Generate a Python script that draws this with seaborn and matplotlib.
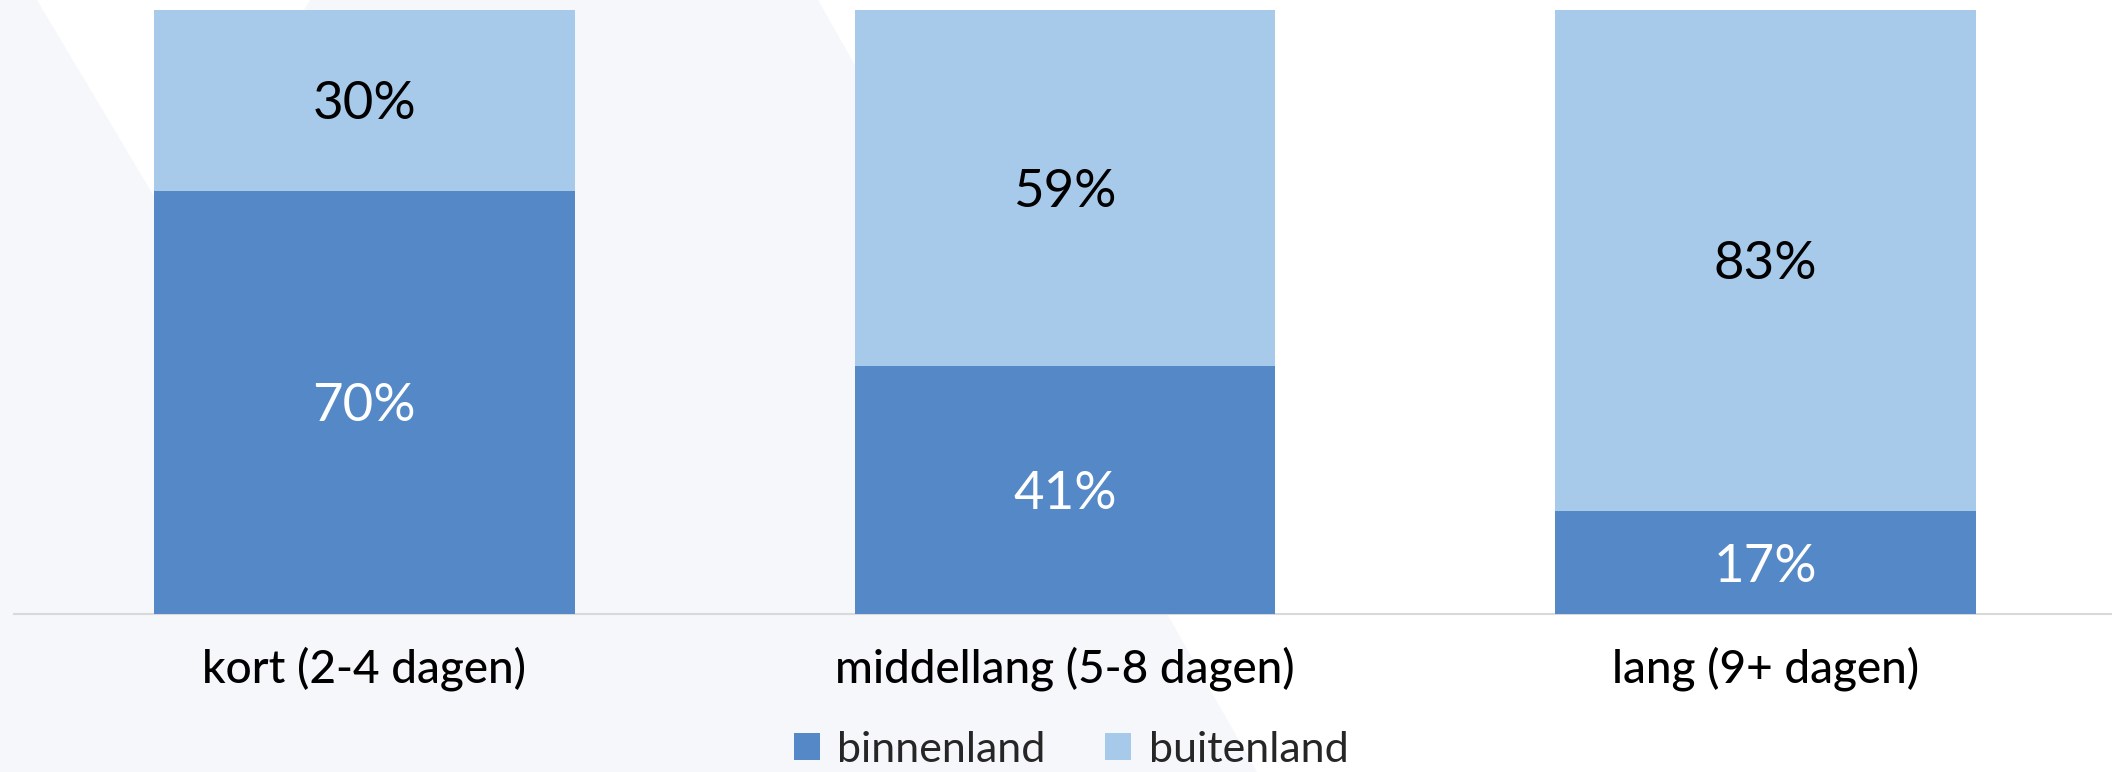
import matplotlib
matplotlib.use("Agg")
import matplotlib.pyplot as plt
from matplotlib.patches import Polygon, Patch
import seaborn as sns
import pandas as pd
import numpy as np

categories = ["kort (2-4 dagen)", "middellang (5-8 dagen)", "lang (9+ dagen)"]
binnenland = [70, 41, 17]
buitenland = [30, 59, 83]
series_names = ["binnenland", "buitenland"]

col_dark = "#5488C7"
col_light = "#A7C9EA"
bg_gray = "#F5F7FB"

sns.set_theme(style="white")
plt.rcParams["font.family"] = ["Lato", "DejaVu Sans"]

W, H = 2112, 772
fig = plt.figure(figsize=(W / 100, H / 100), dpi=100)
fig.patch.set_facecolor("white")

def fp(x, y):
    return (x / W, 1 - y / H)

# decorative background shapes (figure pixel coords)
gray_poly = Polygon([fp(0, 0), fp(818, 0), fp(1257, 772), fp(0, 772)],
                    closed=True, transform=fig.transFigure, facecolor=bg_gray,
                    edgecolor="none", zorder=-10)
white_tri = Polygon([fp(37, 0), fp(310, 0), fp(173, 228)],
                    closed=True, transform=fig.transFigure, facecolor="white",
                    edgecolor="none", zorder=-9)
fig.patches.extend([gray_poly, white_tri])

ax = fig.add_axes([14 / W, (H - 614) / H, 2102 / W, (614 - 9.5) / H])
ax.set_facecolor("none")
ax.set_zorder(1)

df = pd.DataFrame({
    "categorie": categories,
    "binnenland": binnenland,
    "buitenland": buitenland,
})
df["totaal"] = df["binnenland"] + df["buitenland"]

sns.barplot(data=df, x="categorie", y="totaal", color=col_light, saturation=1,
            width=0.6, ax=ax, linewidth=0, zorder=2)
sns.barplot(data=df, x="categorie", y="binnenland", color=col_dark, saturation=1,
            width=0.6, ax=ax, linewidth=0, zorder=3)

for i, (b, u) in enumerate(zip(binnenland, buitenland)):
    ax.text(i, b / 2, f"{b}%", ha="center", va="center_baseline", color="white",
            fontsize=38, fontweight="normal", zorder=5)
    ax.text(i, b + u / 2, f"{u}%", ha="center", va="center_baseline", color="black",
            fontsize=38, fontweight="normal", zorder=5)

ax.set_xlim(-0.5, 2.5)
ax.set_ylim(0, 100)
ax.set_xlabel("")
ax.set_ylabel("")
ax.set_yticks([])
for s in ["left", "right", "top"]:
    ax.spines[s].set_visible(False)
ax.spines["bottom"].set_color("#D9D9D9")
ax.spines["bottom"].set_linewidth(1.5)
ax.tick_params(axis="x", length=0, pad=23, labelsize=33, colors="black")
for lbl in ax.get_xticklabels():
    lbl.set_fontweight("medium")

handles = [Patch(facecolor=col_dark, edgecolor="none"),
           Patch(facecolor=col_light, edgecolor="none")]
fig.legend(handles, series_names, loc="center", ncol=2, frameon=False,
           bbox_to_anchor=(1071 / W, (H - 750) / H), fontsize=31,
           handlelength=0.6, handleheight=0.6, handletextpad=0.4,
           columnspacing=1.4, borderpad=0)

fig.savefig("out.png", dpi=100, facecolor=fig.get_facecolor())
